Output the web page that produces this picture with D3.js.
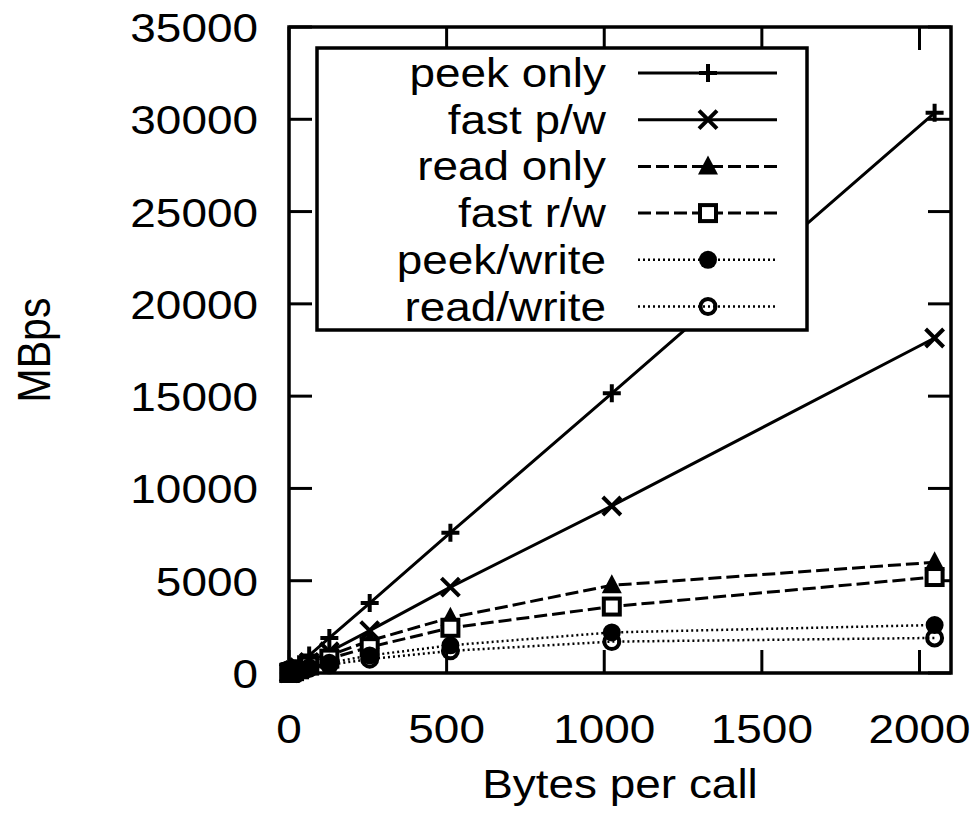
<!DOCTYPE html>
<html>
<head>
<meta charset="utf-8">
<script src="https://cdn.jsdelivr.net/npm/d3@7"></script>
<style>
  body { margin: 0; background: #fff; }
  text { font-family: "Liberation Sans", Arial, sans-serif; fill: #000; }
</style>
</head>
<body>
<div id="chart"></div>
<script>
// bytes per call (x) and throughput in MBps per series
const bytes = [1, 2, 4, 8, 16, 32, 64, 128, 256, 512, 1024, 2048];
const peekOnly  = [15, 30, 60, 118, 237, 475, 950, 1900, 3790, 7600, 15150, 30350];
const fastPW    = [9, 18, 36, 72, 145, 290, 580, 1150, 2300, 4650, 9050, 18150];
const readOnly  = [8, 16, 32, 64, 125, 250, 480, 950, 1750, 3000, 4750, 6000];
const fastRW    = [6, 12, 25, 50, 100, 200, 400, 780, 1400, 2450, 3600, 5200];
const peekWrite = [5, 10, 20, 40, 80, 160, 300, 550, 950, 1500, 2200, 2600];
const readWrite = [4, 8, 16, 32, 65, 130, 250, 450, 750, 1200, 1700, 1900];

const seriesNames = ["peek only", "fast p/w", "read only", "fast r/w", "peek/write", "read/write"];
const xTicks = [0, 500, 1000, 1500, 2000];
const yTicks = [0, 5000, 10000, 15000, 20000, 25000, 30000, 35000];

const width = 980, height = 814;
const margin = { top: 27, right: 29, bottom: 141, left: 289 };
const sx = 1.12; // labels look a bit stretched sideways
const fontSize = "41px";

const series = [
  { name: seriesNames[0], values: peekOnly,  dash: null,  lw: 3,   marker: "plus" },
  { name: seriesNames[1], values: fastPW,    dash: null,  lw: 3,   marker: "cross" },
  { name: seriesNames[2], values: readOnly,  dash: "13,5", lw: 3,  marker: "triangle" },
  { name: seriesNames[3], values: fastRW,    dash: "13,5", lw: 3,  marker: "square" },
  { name: seriesNames[4], values: peekWrite, dash: "2,3", lw: 2.5, marker: "dot" },
  { name: seriesNames[5], values: readWrite, dash: "2,3", lw: 2.5, marker: "circle" }
];

const svg = d3.select("#chart").append("svg")
  .attr("width", width)
  .attr("height", height);

const x = d3.scaleLinear().domain([0, 2100]).range([margin.left, width - margin.right]);
const y = d3.scaleLinear().domain([0, 35000]).range([height - margin.bottom, margin.top]);

// tick marks, mirrored on all four sides like gnuplot
const tickLen = 23;
const ticks = svg.append("g").attr("stroke", "#000").attr("stroke-width", 3);
xTicks.forEach(t => {
  ticks.append("line").attr("x1", x(t)).attr("x2", x(t)).attr("y1", y(0)).attr("y2", y(0) - tickLen);
  ticks.append("line").attr("x1", x(t)).attr("x2", x(t)).attr("y1", y(35000)).attr("y2", y(35000) + tickLen);
});
yTicks.forEach(t => {
  ticks.append("line").attr("x1", x(0)).attr("x2", x(0) + tickLen).attr("y1", y(t)).attr("y2", y(t));
  ticks.append("line").attr("x1", x(2100)).attr("x2", x(2100) - tickLen).attr("y1", y(t)).attr("y2", y(t));
});

// tick labels
function label(g, tx, ty, str, anchor) {
  return g.append("text")
    .attr("transform", `translate(${tx},${ty}) scale(${sx},1)`)
    .attr("text-anchor", anchor)
    .attr("font-size", fontSize)
    .text(str);
}
const labels = svg.append("g");
yTicks.forEach(t => label(labels, 258, y(t) + 15, t, "end"));
xTicks.forEach(t => label(labels, x(t), 743, t, "middle"));

// axis titles
label(labels, x(1050), 798, "Bytes per call", "middle");
svg.append("text")
  .attr("transform", `translate(50,${y(17500)}) scale(${sx},1) rotate(-90)`)
  .attr("text-anchor", "middle")
  .attr("font-size", fontSize)
  .text("MBps");

// lines
const line = d3.line()
  .x((d, i) => x(bytes[i]))
  .y(d => y(d));

const plot = svg.append("g");
series.forEach(s => {
  plot.append("path")
    .datum(s.values)
    .attr("d", line)
    .attr("fill", "none")
    .attr("stroke", "#000")
    .attr("stroke-width", s.lw)
    .attr("stroke-dasharray", s.dash);
});

// markers
function drawMarker(g, type, cx, cy) {
  const r = 9;
  if (type === "plus") {
    g.append("path").attr("d", `M${cx - r},${cy}H${cx + r}M${cx},${cy - r}V${cy + r}`)
      .attr("stroke", "#000").attr("stroke-width", 4);
  } else if (type === "cross") {
    g.append("path").attr("d", `M${cx - r},${cy - r}L${cx + r},${cy + r}M${cx - r},${cy + r}L${cx + r},${cy - r}`)
      .attr("stroke", "#000").attr("stroke-width", 4);
  } else if (type === "triangle") {
    g.append("path").attr("d", `M${cx},${cy - r - 2}L${cx + r + 1},${cy + r - 1}L${cx - r - 1},${cy + r - 1}Z`)
      .attr("fill", "#000");
  } else if (type === "square") {
    g.append("rect").attr("x", cx - r + 1).attr("y", cy - r + 1).attr("width", 2 * r - 2).attr("height", 2 * r - 2)
      .attr("fill", "#fff").attr("stroke", "#000").attr("stroke-width", 4);
  } else if (type === "dot") {
    g.append("circle").attr("cx", cx).attr("cy", cy).attr("r", r).attr("fill", "#000");
  } else if (type === "circle") {
    g.append("circle").attr("cx", cx).attr("cy", cy).attr("r", r - 1.5)
      .attr("fill", "none").attr("stroke", "#000").attr("stroke-width", 4);
  }
}
series.forEach(s => {
  s.values.forEach((v, i) => drawMarker(plot, s.marker, x(bytes[i]), y(v)));
});

// legend
const lg = svg.append("g");
const legendTop = 48, legendLeft = 317, legendRight = 807, rowH = 46.7;
lg.append("rect")
  .attr("x", legendLeft).attr("y", legendTop)
  .attr("width", legendRight - legendLeft).attr("height", 282)
  .attr("fill", "#fff").attr("stroke", "#000").attr("stroke-width", 3.5);
series.forEach((s, i) => {
  const cy = 73 + i * rowH;
  label(lg, 606, cy + 14, s.name, "end");
  lg.append("line")
    .attr("x1", 638).attr("x2", 777).attr("y1", cy).attr("y2", cy)
    .attr("stroke", "#000").attr("stroke-width", s.lw)
    .attr("stroke-dasharray", s.dash);
  drawMarker(lg, s.marker, 708, cy);
});

// frame
svg.append("rect")
  .attr("x", x(0)).attr("y", y(35000))
  .attr("width", x(2100) - x(0)).attr("height", y(0) - y(35000))
  .attr("fill", "none").attr("stroke", "#000").attr("stroke-width", 3.5);
</script>
</body>
</html>
